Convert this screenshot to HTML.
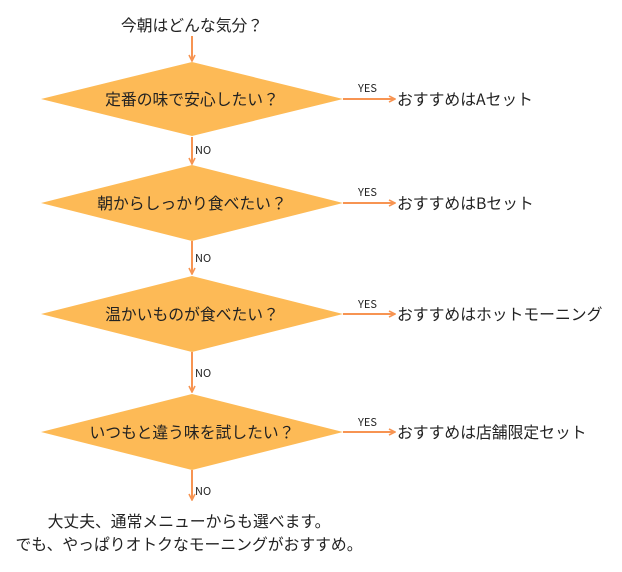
<!DOCTYPE html>
<html><head><meta charset="utf-8"><style>
body{margin:0;background:#fff;width:622px;height:567px;overflow:hidden}
svg text{font-family:"Noto Sans CJK JP","Liberation Sans",sans-serif;fill:#222}
</style></head><body>
<svg width="622" height="567" viewBox="0 0 622 567">
<defs><marker id="a" markerWidth="8" markerHeight="8" refX="7" refY="4" orient="auto" markerUnits="userSpaceOnUse"><path d="M1,1 L7,4 L1,7" fill="none" stroke="#F79452" stroke-width="1.6"/></marker></defs>
<g stroke="#F79452" stroke-width="2" fill="none" marker-end="url(#a)">
<line x1="192" y1="36" x2="192" y2="61"/>
<line x1="192" y1="137" x2="192" y2="164"/>
<line x1="192" y1="241" x2="192" y2="274"/>
<line x1="192" y1="352" x2="192" y2="392"/>
<line x1="192" y1="470" x2="192" y2="500"/>
<line x1="343" y1="99" x2="395" y2="99"/>
<line x1="343" y1="203" x2="395" y2="203"/>
<line x1="343" y1="314" x2="395" y2="314"/>
<line x1="343" y1="432" x2="395" y2="432"/>
</g>
<g fill="#FDBA56">
<polygon points="192,62 343,99 192,136 41,99"/>
<polygon points="192,165 343,203 192,241 41,203"/>
<polygon points="192,276 343,314 192,352 41,314"/>
<polygon points="192,394 343,432 192,470 41,432"/>
</g>
<g font-size="15.8" text-anchor="middle">
<text x="192" y="31">今朝はどんな気分？</text>
<text x="192" y="105">定番の味で安心したい？</text>
<text x="192" y="209">朝からしっかり食べたい？</text>
<text x="192" y="320">温かいものが食べたい？</text>
<text x="192" y="438">いつもと違う味を試したい？</text>
<text x="189" y="527">大丈夫、通常メニューからも選べます。</text>
<text x="189" y="550">でも、やっぱりオトクなモーニングがおすすめ。</text>
</g>
<g font-size="15.8">
<text x="397" y="105">おすすめはAセット</text>
<text x="397" y="209">おすすめはBセット</text>
<text x="397" y="320">おすすめはホットモーニング</text>
<text x="397" y="438">おすすめは店舗限定セット</text>
</g>
<g font-size="11">
<text x="358" y="92">YES</text><text x="358" y="196">YES</text>
<text x="358" y="308">YES</text><text x="358" y="426">YES</text>
<text x="195" y="154">NO</text><text x="195" y="262">NO</text>
<text x="195" y="377">NO</text><text x="195" y="495">NO</text>
</g>
</svg>
</body></html>
